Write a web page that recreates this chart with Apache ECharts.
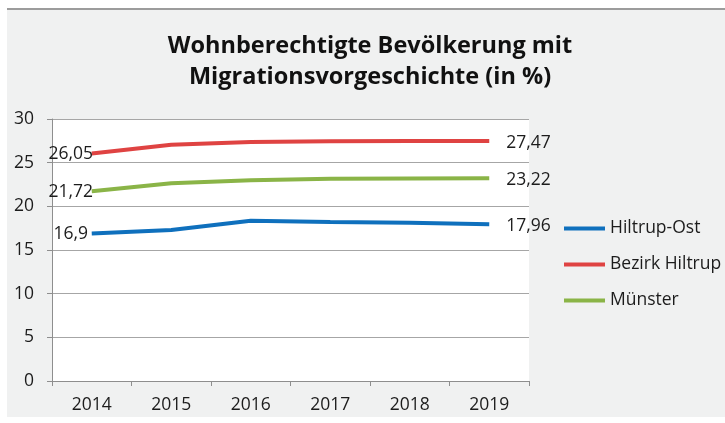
<!DOCTYPE html>
<html>
<head>
<meta charset="utf-8">
<script src="https://cdn.jsdelivr.net/npm/echarts@6/dist/echarts.min.js"></script>
<style>
html,body{margin:0;padding:0;background:#fff;}
#chart{width:725px;height:423px;}
</style>
</head>
<body>
<div id="chart"></div>
<script>
var years = ['2014', '2015', '2016', '2017', '2018', '2019'];
var hiltrupOst = [16.9, 17.29, 18.35, 18.22, 18.13, 17.96];
var bezirkHiltrup = [26.05, 27.05, 27.38, 27.46, 27.47, 27.47];
var muenster = [21.72, 22.63, 22.98, 23.17, 23.2, 23.22];
var seriesNames = ['Hiltrup-Ost', 'Bezirk Hiltrup', 'Münster'];
var titleLines = ['Wohnberechtigte Bevölkerung mit', 'Migrationsvorgeschichte (in %)'];

var FONT = '"Open Sans", sans-serif';
var TXT = '#1c1c1c';

function fmt(v) { return String(v).replace('.', ','); }

function buildData(values) {
  return values.map(function (v, i) {
    var item = { value: v };
    if (i === 0) {
      item.label = { show: true, position: [-21, 1], align: 'center', verticalAlign: 'middle' };
    } else if (i === values.length - 1) {
      item.label = { show: true, position: [17, 2], align: 'left', verticalAlign: 'middle' };
    }
    return item;
  });
}

function lineSeries(name, values, color) {
  return {
    name: name,
    type: 'line',
    data: buildData(values),
    symbol: 'circle',
    symbolSize: 0,
    showSymbol: true,
    lineStyle: { color: color, width: 4 },
    itemStyle: { color: color },
    label: {
      show: false,
      formatter: function (p) { return fmt(p.value); },
      color: TXT, fontFamily: FONT, fontSize: 17.5
    },
    emphasis: { disabled: true },
    animation: false
  };
}

var chart = echarts.init(document.getElementById('chart'), null, { renderer: 'canvas' });
chart.setOption({
  backgroundColor: '#ffffff',
  animation: false,
  graphic: [
    { type: 'rect', z: -10, shape: { x: 7, y: 9, width: 718, height: 408 }, style: { fill: '#f0f1f1' } },
    { type: 'line', z: -9, shape: { x1: 7, y1: 9, x2: 725, y2: 9 }, style: { stroke: '#9c9c9c', lineWidth: 2 } }
  ],
  title: {
    text: titleLines.join('\n'),
    left: 370,
    textAlign: 'center',
    top: 31,
    padding: 0,
    textStyle: { fontFamily: FONT, fontWeight: 'bold', fontSize: 23.5, lineHeight: 31, color: '#111' }
  },
  legend: {
    orient: 'vertical',
    left: 559,
    top: 212,
    itemWidth: 41,
    itemHeight: 4,
    itemGap: 13,
    icon: 'rect',
    data: seriesNames,
    textStyle: { fontFamily: FONT, fontSize: 17.5, color: TXT, lineHeight: 23, padding: [0, 0, 0, 0] },
    selectedMode: false
  },
  grid: {
    left: 52, right: 196, top: 119, bottom: 42,
    show: true, backgroundColor: '#ffffff', borderWidth: 0
  },
  xAxis: {
    type: 'category',
    data: years,
    boundaryGap: true,
    axisLine: { show: true, lineStyle: { color: '#8e8e8e', width: 1 } },
    axisTick: { show: true, length: 5, inside: false, lineStyle: { color: '#8e8e8e' } },
    axisLabel: { fontFamily: FONT, fontSize: 17.5, color: TXT, margin: 15 },
    splitLine: { show: false }
  },
  yAxis: {
    type: 'value',
    min: 0, max: 30, interval: 5,
    axisLine: { show: true, lineStyle: { color: '#8e8e8e', width: 1 } },
    axisTick: { show: true, length: 5, lineStyle: { color: '#8e8e8e' } },
    axisLabel: { fontFamily: FONT, fontSize: 17.5, color: TXT, margin: 18 },
    splitLine: { show: true, lineStyle: { color: '#a6a6a6', width: 1 } }
  },
  series: [
    lineSeries(seriesNames[0], hiltrupOst, '#0f70bd'),
    lineSeries(seriesNames[1], bezirkHiltrup, '#df4342'),
    lineSeries(seriesNames[2], muenster, '#8ab447')
  ]
});
</script>
</body>
</html>
